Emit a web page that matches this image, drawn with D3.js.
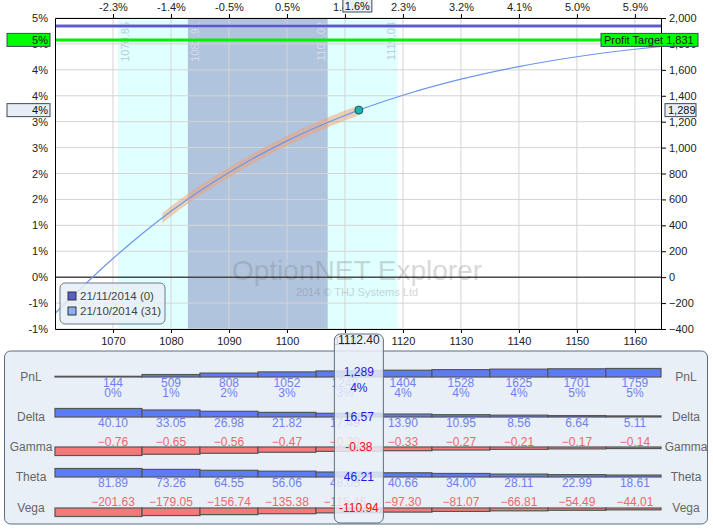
<!DOCTYPE html>
<html>
<head>
<meta charset="utf-8">
<script src="https://cdn.jsdelivr.net/npm/d3@7"></script>
<style>
    body { margin: 0; background: #fff; }
    svg { font-family: "Liberation Sans", Arial, sans-serif; font-size: 11px; }
</style>
</head>
<body>
<div id="chart"></div>
<script>

// T+31 curve (21/10/2014)
const curvePrices = [1060, 1070, 1080, 1090, 1100, 1110, 1112.4, 1120, 1130, 1140, 1150, 1160, 1164.5];
const curvePnl = [-280, 144, 509, 808, 1052, 1248, 1289, 1404, 1528, 1625, 1701, 1759, 1780];

// shaded part of the curve
const rangePrices = [1078.5, 1080, 1090, 1100, 1110, 1112.4];
const rangePnl = [455, 509, 808, 1052, 1248, 1289];

// expiry line (21/11/2014)
const expiryPrices = [1060, 1164.5];
const expiryPnl = [1938, 1938];

const profitTarget = 1831;
const currentPrice = 1112.4;
const currentPnl = 1289;
const currentMove = "1.6%";

const outerRange = [1070.85, 1119.08];
const innerRange = [1082.91, 1107.02];

const xTicks = [1070, 1080, 1090, 1100, 1110, 1120, 1130, 1140, 1150, 1160];
const topLabels = ["-2.3%", "-1.4%", "-0.5%", "0.5%", "1.4%", "2.3%", "3.2%", "4.1%", "5.0%", "5.9%"];
const yTicks = [-400, -200, 0, 200, 400, 600, 800, 1000, 1200, 1400, 1600, 1800, 2000];
const leftLabels = ["-1%", "-1%", "0%", "1%", "1%", "2%", "2%", "3%", "3%", "4%", "4%", "5%", "5%"];

const legendItems = ["21/11/2014 (0)", "21/10/2014 (31)"];

// table
const tablePrices = [1070, 1080, 1090, 1100, 1110, 1112.4, 1120, 1130, 1140, 1150, 1160];
const pnl = [144, 509, 808, 1052, 1248, 1289, 1404, 1528, 1625, 1701, 1759];
const pnlPct = ["0%", "1%", "2%", "3%", "3%", "4%", "4%", "4%", "4%", "5%", "5%"];
const delta = [40.10, 33.05, 26.98, 21.82, 17.49, 16.57, 13.90, 10.95, 8.56, 6.64, 5.11];
const gamma = [-0.76, -0.65, -0.56, -0.47, -0.39, -0.38, -0.33, -0.27, -0.21, -0.17, -0.14];
const theta = [81.89, 73.26, 64.55, 56.06, 48.05, 46.21, 40.66, 34.00, 28.11, 22.99, 18.61];
const vega = [-201.63, -179.05, -156.74, -135.38, -115.46, -110.94, -97.30, -81.07, -66.81, -54.49, -44.01];
const currentIdx = 5;

/////////////////////////////

const svg = d3.select("#chart").append("svg")
    .attr("width", 713)
    .attr("height", 529);

const x = d3.scaleLinear().domain([1060, 1164.5]).range([55, 661]);
const y = d3.scaleLinear().domain([-400, 2000]).range([329, 18]);
const plotTop = 18, plotBottom = 329;

svg.append("rect")
    .attr("x", x(outerRange[0])).attr("y", plotTop)
    .attr("width", x(outerRange[1]) - x(outerRange[0])).attr("height", plotBottom - plotTop)
    .attr("fill", "#e0ffff");

svg.append("rect")
    .attr("x", x(innerRange[0])).attr("y", plotTop)
    .attr("width", x(innerRange[1]) - x(innerRange[0])).attr("height", plotBottom - plotTop)
    .attr("fill", "#b0c4de");

[outerRange[0], innerRange[0], innerRange[1], outerRange[1]].forEach((v, i) => {
    const bx = i < 2 ? x(v) + 11 : x(v) - 3;
    svg.append("text")
        .attr("transform", `translate(${bx},22) rotate(-90)`)
        .attr("text-anchor", "end")
        .attr("fill", i === 0 || i === 3 ? "#bccbdd" : "#d4dce8")
        .style("font-size", "11px")
        .text(v.toFixed(2));
});

// grid
svg.append("g")
    .selectAll("line")
    .data(xTicks)
    .join("line")
    .attr("x1", d => x(d)).attr("x2", d => x(d))
    .attr("y1", plotTop).attr("y2", plotBottom)
    .attr("stroke", "#d4d4d4");

svg.append("g")
    .selectAll("line")
    .data(yTicks)
    .join("line")
    .attr("x1", 55).attr("x2", 661)
    .attr("y1", d => y(d)).attr("y2", d => y(d))
    .attr("stroke", "#d4d4d4");

// watermark
svg.append("text")
    .attr("x", 357).attr("y", 280)
    .attr("text-anchor", "middle")
    .attr("fill", "#777").attr("opacity", 0.28)
    .style("font-size", "28px")
    .text("OptionNET Explorer");

svg.append("text")
    .attr("x", 357).attr("y", 296)
    .attr("text-anchor", "middle")
    .attr("fill", "#777").attr("opacity", 0.3)
    .style("font-size", "11px")
    .text("2014 © THJ Systems Ltd");

svg.append("line")
    .attr("x1", 55).attr("x2", 661)
    .attr("y1", y(0)).attr("y2", y(0))
    .attr("stroke", "#000");

/////////////////////////////

const line = d3.line()
    .x(d => x(d[0]))
    .y(d => y(d[1]))
    .curve(d3.curveMonotoneX);

svg.append("path")
    .datum(d3.zip(expiryPrices, expiryPnl))
    .attr("fill", "none")
    .attr("stroke", "#9a9ae0")
    .attr("stroke-width", 3.5)
    .attr("d", line);

svg.append("path")
    .datum(d3.zip(expiryPrices, expiryPnl))
    .attr("fill", "none")
    .attr("stroke", "#4646c0")
    .attr("stroke-width", 1.6)
    .attr("d", line);

svg.append("line")
    .attr("x1", 55).attr("x2", 661)
    .attr("y1", y(profitTarget)).attr("y2", y(profitTarget))
    .attr("stroke", "#00f000")
    .attr("stroke-width", 3);

const band = d3.area()
    .x(d => x(d[0]))
    .y0(d => y(d[1]) - 5)
    .y1(d => y(d[1]) + 5)
    .curve(d3.curveMonotoneX);

svg.append("path")
    .datum(d3.zip(rangePrices, rangePnl))
    .attr("fill", "#f4a070")
    .attr("opacity", 0.5)
    .attr("d", band);

svg.append("path")
    .datum(d3.zip(curvePrices, curvePnl))
    .attr("fill", "none")
    .attr("stroke", "#6c96ec")
    .attr("stroke-width", 1.2)
    .attr("d", line);

svg.append("circle")
    .attr("cx", x(currentPrice)).attr("cy", y(currentPnl))
    .attr("r", 4)
    .attr("fill", "#1fb3ad")
    .attr("stroke", "#1d5a5a");

/////////////////////////////

const styleAxis = g => {
    g.select(".domain").attr("stroke", "#000");
    g.selectAll(".tick line").attr("stroke", "#000");
    g.selectAll("text").attr("fill", "#222").style("font-size", "11px")
        .style("font-family", "'Liberation Sans', Arial, sans-serif");
};

svg.append("g")
    .attr("transform", `translate(0,${plotBottom})`)
    .call(d3.axisBottom(x).tickValues(xTicks).tickFormat(d3.format("d")).tickSize(4).tickSizeOuter(0).tickPadding(4))
    .call(styleAxis);

svg.append("g")
    .attr("transform", `translate(0,${plotTop})`)
    .call(d3.axisTop(x).tickValues(xTicks).tickFormat((d, i) => topLabels[i]).tickSize(4).tickSizeOuter(0).tickPadding(3))
    .call(styleAxis);

svg.append("g")
    .attr("transform", "translate(55,0)")
    .call(d3.axisLeft(y).tickValues(yTicks).tickFormat((d, i) => leftLabels[i]).tickSize(0).tickPadding(7))
    .call(styleAxis);

svg.append("g")
    .attr("transform", "translate(661,0)")
    .call(d3.axisRight(y).tickValues(yTicks).tickFormat(d3.format(",")).tickSize(5).tickSizeOuter(0).tickPadding(3))
    .call(styleAxis);

// value boxes on the axes
function tag(bx, by, w, fill, label, anchor) {
    svg.append("rect")
        .attr("x", bx).attr("y", by - 6.5)
        .attr("width", w).attr("height", 13)
        .attr("fill", fill).attr("stroke", "#3a4a5a");
    svg.append("text")
        .attr("x", anchor === "end" ? bx + w - 2 : anchor === "middle" ? bx + w / 2 : bx + 3)
        .attr("y", by + 4)
        .attr("text-anchor", anchor)
        .attr("fill", "#111")
        .text(label);
}

tag(7, y(profitTarget), 43, "#00ff00", leftLabels[11], "end");
tag(601, y(profitTarget), 97, "#00ff00", "Profit Target " + d3.format(",")(profitTarget), "start");
tag(7, y(currentPnl), 43, "#e8eef6", pnlPct[currentIdx], "end");
tag(665, y(currentPnl), 31, "#e8eef6", d3.format(",")(currentPnl), "start");
tag(x(currentPrice) - 16, 5.5, 29, "#e8eef6", currentMove, "middle");

// legend
svg.append("rect")
    .attr("x", 60).attr("y", 283)
    .attr("width", 105).attr("height", 41)
    .attr("rx", 5)
    .attr("fill", "#e6eff7").attr("fill-opacity", 0.85)
    .attr("stroke", "#6a7a8a");

const legendColors = ["#5c5cc8", "#8cb2ee"];
legendItems.forEach((t, i) => {
    svg.append("rect")
        .attr("x", 68).attr("y", 292 + i * 15)
        .attr("width", 8).attr("height", 8)
        .attr("fill", legendColors[i]).attr("stroke", "#333");
    svg.append("text")
        .attr("x", 80).attr("y", 300 + i * 15)
        .attr("fill", "#444")
        .style("font-size", "11.5px")
        .text(t);
});

/////////////////////////////  table

svg.append("rect")
    .attr("x", 4.5).attr("y", 351)
    .attr("width", 703).attr("height", 173)
    .attr("rx", 6)
    .attr("fill", "#e8eff7")
    .attr("stroke", "#5d6d7e");

const edges = tablePrices.map((p, i) => [
    i === 0 ? x.domain()[0] : (tablePrices[i - 1] + p) / 2,
    i === tablePrices.length - 1 ? x.domain()[1] : (tablePrices[i + 1] + p) / 2
]);

const rows = [
    { name: "PnL", values: pnl, base: 377, up: true, color: "#5b7cf6", text: "#6f7ff0", labelY: 387, fmt: d => d },
    { name: "Delta", values: delta, base: 417, up: true, color: "#5b7cf6", text: "#6f7ff0", labelY: 427, fmt: d3.format(".2f") },
    { name: "Gamma", values: gamma, base: 447, up: false, color: "#f47a7a", text: "#f06868", labelY: 446, fmt: d3.format(".2f") },
    { name: "Theta", values: theta, base: 477, up: true, color: "#5b7cf6", text: "#6f7ff0", labelY: 487, fmt: d3.format(".2f") },
    { name: "Vega", values: vega, base: 508, up: false, color: "#f47a7a", text: "#f06868", labelY: 506, fmt: d3.format(".2f") }
];

rows.forEach(r => {
    const h = d3.scaleLinear().domain([0, d3.max(r.values, v => Math.abs(v))]).range([0, 8.5]);

    svg.append("text").attr("x", 31).attr("y", r.base + 4)
        .attr("text-anchor", "middle").attr("fill", "#666").style("font-size", "12px").text(r.name);
    svg.append("text").attr("x", 686).attr("y", r.base + 4)
        .attr("text-anchor", "middle").attr("fill", "#666").style("font-size", "12px").text(r.name);

    svg.append("g")
        .selectAll("rect")
        .data(r.values)
        .join("rect")
        .attr("x", (d, i) => x(edges[i][0]))
        .attr("width", (d, i) => x(edges[i][1]) - x(edges[i][0]))
        .attr("y", d => r.up ? r.base - h(Math.abs(d)) : r.base)
        .attr("height", d => Math.max(h(Math.abs(d)), 0.5))
        .attr("fill", r.color)
        .attr("stroke", "#555")
        .attr("stroke-width", 1.2);

    svg.append("g")
        .selectAll("text")
        .data(r.values.map((v, i) => ({ v, i })).filter(d => d.i !== currentIdx))
        .join("text")
        .attr("x", d => x(tablePrices[d.i]))
        .attr("y", r.labelY)
        .attr("text-anchor", "middle")
        .attr("fill", r.text)
        .style("font-size", "12px")
        .text(d => r.fmt(d.v));
});

svg.append("g")
    .selectAll("text")
    .data(pnlPct.map((v, i) => ({ v, i })).filter(d => d.i !== currentIdx))
    .join("text")
    .attr("x", d => x(tablePrices[d.i]))
    .attr("y", 397)
    .attr("text-anchor", "middle")
    .attr("fill", "#6f7ff0")
    .style("font-size", "12px")
    .text(d => d.v);

// current price column
const cx = x(currentPrice);
svg.append("rect")
    .attr("x", cx - 24.5).attr("y", 334)
    .attr("width", 49).attr("height", 189)
    .attr("rx", 6)
    .attr("fill", "#e9eff8").attr("fill-opacity", 0.84)
    .attr("stroke", "#5d6d7e");

svg.append("text")
    .attr("x", cx).attr("y", 344)
    .attr("text-anchor", "middle")
    .attr("fill", "#222")
    .style("font-size", "12px")
    .text(currentPrice.toFixed(2));

const current = [
    [d3.format(",")(pnl[currentIdx]), 376, "#1a1ae6"],
    [pnlPct[currentIdx], 392, "#1a1ae6"],
    [delta[currentIdx].toFixed(2), 421, "#1a1ae6"],
    [gamma[currentIdx].toFixed(2), 451, "#f01010"],
    [theta[currentIdx].toFixed(2), 481, "#1a1ae6"],
    [vega[currentIdx].toFixed(2), 512, "#f01010"]
];

current.forEach(c => {
    svg.append("text")
        .attr("x", cx).attr("y", c[1])
        .attr("text-anchor", "middle")
        .attr("fill", c[2])
        .style("font-size", "12px")
        .text(c[0]);
});

</script>
</body>
</html>
